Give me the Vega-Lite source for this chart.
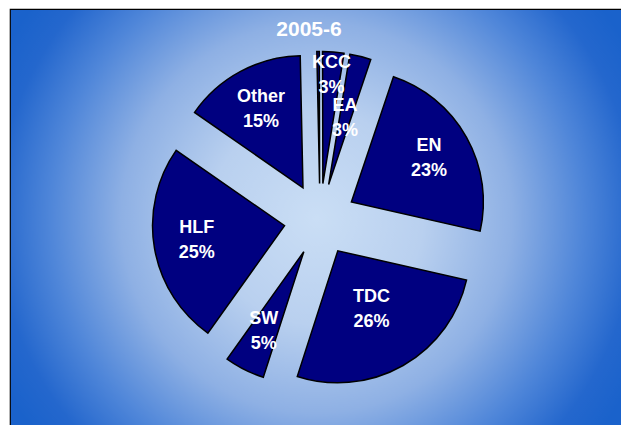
{
  "$schema": "https://vega.github.io/schema/vega-lite/v6.json",
  "width": 612,
  "height": 417,
  "autosize": {"type": "none"},
  "padding": {"left": 10, "top": 9, "right": 0, "bottom": 0},
  "background": "white",
  "config": {
    "view": {
      "fill": {
        "gradient": "radial",
        "x1": 0.5, "y1": 0.5, "r1": 0,
        "x2": 0.5, "y2": 0.5, "r2": 0.58,
        "stops": [
          {"offset": 0, "color": "#cadef5"},
          {"offset": 0.3, "color": "#b9d0ef"},
          {"offset": 0.55, "color": "#8eb0e4"},
          {"offset": 0.75, "color": "#4f86d9"},
          {"offset": 0.9, "color": "#2467cd"},
          {"offset": 1, "color": "#1a62cb"}
        ]
      },
      "stroke": "#000000",
      "strokeWidth": 1.2
    }
  },
  "title": {
    "text": "2005-6",
    "color": "white",
    "fontSize": 21,
    "font": "Liberation Sans",
    "fontWeight": "bold",
    "anchor": "middle",
    "frame": "group",
    "offset": -31,
    "dx": -7
  },
  "data": {
    "values": [
      {"source": "(unlabelled)", "share": 0.3},
      {"source": "KCC", "share": 2.6},
      {"source": "EA", "share": 2.6},
      {"source": "EN", "share": 23.4},
      {"source": "TDC", "share": 26.4},
      {"source": "SW", "share": 4.9},
      {"source": "HLF", "share": 24.8},
      {"source": "Other", "share": 15.0}
    ]
  },
  "transform": [
    {"joinaggregate": [{"op": "sum", "field": "share", "as": "total"}]},
    {"window": [{"op": "sum", "field": "share", "as": "cum"}], "frame": [null, 0]},
    {"calculate": "100 * (datum.cum - datum.share) / datum.total", "as": "a0"},
    {"calculate": "100 * datum.cum / datum.total", "as": "a1"},
    {"calculate": "(datum.a0 + datum.a1) / 2", "as": "am"},
    {"calculate": "-0.021 + 2 * PI * datum.am / 100", "as": "rad"},
    {"calculate": "sin(datum.rad)", "as": "ex"},
    {"calculate": "cos(datum.rad)", "as": "ey"},
    {"calculate": "[datum.source, format(datum.share / datum.total, '.0%')]", "as": "label"}
  ],
  "encoding": {
    "x": {"field": "ex", "type": "quantitative", "scale": {"domain": [-8.611, 8.389], "nice": false, "zero": false}, "axis": null},
    "y": {"field": "ey", "type": "quantitative", "scale": {"domain": [-5.736, 5.847], "nice": false, "zero": false}, "axis": null}
  },
  "layer": [
    {
      "mark": {"type": "arc", "outerRadius": 132, "fill": "#000080", "stroke": "#000000", "strokeWidth": 1.5},
      "encoding": {
        "theta": {"field": "a0", "type": "quantitative", "stack": null, "scale": {"domain": [0, 100], "range": [-0.021, 6.2622]}},
        "theta2": {"field": "a1"}
      }
    },
    {
      "transform": [{"filter": "datum.share >= 1"}],
      "mark": {
        "type": "text",
        "radius": {"expr": "datum.source === 'KCC' ? 108 : ((datum.source === 'EA' || datum.source === 'TDC') ? 68 : 89)"},
        "color": "white",
        "font": "Liberation Sans",
        "fontSize": 18,
        "fontWeight": "bold",
        "lineHeight": 25,
        "dy": -12.5,
        "align": "center",
        "baseline": "middle"
      },
      "encoding": {
        "theta": {"field": "am", "type": "quantitative", "stack": null, "scale": {"domain": [0, 100], "range": [-0.021, 6.2622]}},
        "text": {"field": "label"}
      }
    }
  ]
}
